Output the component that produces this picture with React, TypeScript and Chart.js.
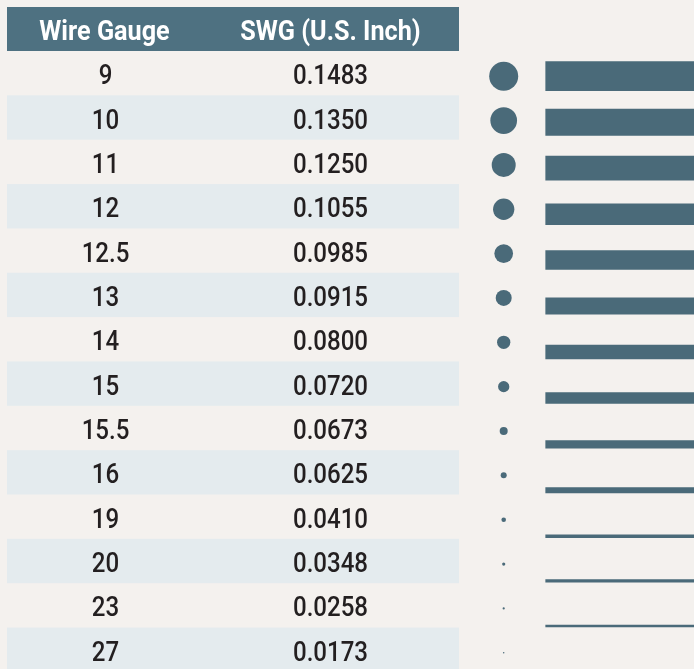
import { useEffect, useRef } from 'react';
import { Chart, registerables } from 'chart.js';

Chart.register(...registerables);

// ---------- data ----------
const HEADERS = ['Wire Gauge', 'SWG (U.S. Inch)'];
const GAUGES = ['9', '10', '11', '12', '12.5', '13', '14', '15', '15.5', '16', '19', '20', '23', '27'];
const SWG_INCH = [0.1483, 0.135, 0.125, 0.1055, 0.0985, 0.0915, 0.08, 0.072, 0.0673, 0.0625, 0.041, 0.0348, 0.0258, 0.0173];

// ---------- styles (sizes of the decorative wire marks, px) ----------
const DOT_DIAMETER_PX = [29, 26.7, 24, 21.3, 18.7, 16, 13.3, 11.3, 8, 6, 4.6, 3.2, 2.2, 1.5];
const BAR_THICKNESS_PX = [29, 26.3, 24, 21, 19, 16.3, 13.7, 11, 7.7, 5.3, 2.8, 2.6, 1.8, 1.4];

const W = 694;
const H = 669;
const HEADER_TOP = 7;
const BODY_TOP = 51;
const ROW_PX = 44.35;
const TABLE_LEFT = 7;
const TABLE_RIGHT = 459;
const COL1_X = 105.5;
const COL2_X = 330.5;
const DOT_X = 503.7;
const DOT_OFFSET_PX = 3;
const BAR_X0 = 545.7;
// the side-view wires sit on baselines spaced slightly wider than the table rows
const BAR_ROW_PX = 44.69;
const BAR_FIRST_BASE_PX = 90.7;

const BG = '#f4f1ee';
const ROW_ALT = '#e4ebee';
const HEADER_BG = '#4e7181';
const MARK = '#4a6a79';
const TEXT = '#231f20';
const FONT = 'Roboto, "Liberation Sans", sans-serif';

function drawText(ctx: CanvasRenderingContext2D, t: string, x: number, yb: number, font: string, color: string, sx: number) {
  ctx.save();
  ctx.translate(x, yb);
  ctx.scale(sx, 1);
  ctx.font = font;
  ctx.fillStyle = color;
  ctx.textAlign = 'center';
  ctx.textBaseline = 'alphabetic';
  ctx.fillText(t, 0, 0);
  ctx.restore();
}

const tablePlugin = {
  id: 'swgTable',
  beforeDraw(chart: any) {
    const ctx: CanvasRenderingContext2D = chart.ctx;
    const y = chart.scales.y;
    ctx.save();
    ctx.fillStyle = BG;
    ctx.fillRect(0, 0, chart.width, chart.height);

    GAUGES.forEach((g, i) => {
      const top = y.getPixelForValue(i - 0.5);
      const bot = y.getPixelForValue(i + 0.5);
      if (i % 2 === 1) {
        ctx.fillStyle = ROW_ALT;
        ctx.fillRect(TABLE_LEFT, top, TABLE_RIGHT - TABLE_LEFT, bot - top);
      }
      const c = (top + bot) / 2;
      drawText(ctx, g, COL1_X, c + 11, `500 28px ${FONT}`, TEXT, 0.86);
      drawText(ctx, SWG_INCH[i].toFixed(4), COL2_X, c + 11, `500 28px ${FONT}`, TEXT, 0.86);
    });

    const hb = y.getPixelForValue(-0.5);
    ctx.fillStyle = HEADER_BG;
    ctx.fillRect(TABLE_LEFT, HEADER_TOP, TABLE_RIGHT - TABLE_LEFT, hb - HEADER_TOP);
    const hc = (HEADER_TOP + hb) / 2;
    drawText(ctx, HEADERS[0], COL1_X - 1, hc + 11, `bold 28px ${FONT}`, '#ffffff', 0.9);
    drawText(ctx, HEADERS[1], COL2_X, hc + 11, `bold 28px ${FONT}`, '#ffffff', 0.9);
    ctx.restore();
  },
};

export default function App() {
  const ref = useRef<HTMLCanvasElement | null>(null);

  useEffect(() => {
    if (!ref.current) return;
    const yMax = -0.5 + (H - BODY_TOP) / ROW_PX;
    const barMin = (BODY_TOP - BAR_FIRST_BASE_PX) / BAR_ROW_PX;
    const barMax = (H - BAR_FIRST_BASE_PX) / BAR_ROW_PX;

    const barDatasets: any[] = GAUGES.map((g, i) => ({
      type: 'bar',
      label: `Gauge ${g}`,
      indexAxis: 'y',
      yAxisID: 'yWire',
      grouped: false,
      barThickness: BAR_THICKNESS_PX[i],
      backgroundColor: MARK,
      borderWidth: 0,
      data: [{ x: [BAR_X0, W], y: i - BAR_THICKNESS_PX[i] / 2 / BAR_ROW_PX }],
    }));

    const dotDataset: any = {
      type: 'bubble',
      label: 'Cross-section',
      backgroundColor: MARK,
      borderWidth: 0,
      hoverRadius: 0,
      data: GAUGES.map((g, i) => ({ x: DOT_X, y: i + DOT_OFFSET_PX / ROW_PX, r: DOT_DIAMETER_PX[i] / 2 })),
    };

    const chart = new Chart(ref.current, {
      type: 'bubble',
      data: { datasets: [dotDataset, ...barDatasets] },
      options: {
        responsive: false,
        animation: false,
        events: [],
        layout: { autoPadding: false, padding: { top: BODY_TOP, left: 0, right: 0, bottom: 0 } },
        plugins: { legend: { display: false }, tooltip: { enabled: false } },
        scales: {
          x: { type: 'linear', min: 0, max: W, offset: false, display: false },
          y: { type: 'linear', min: -0.5, max: yMax, reverse: true, offset: false, display: false },
          yWire: { type: 'linear', axis: 'y', min: barMin, max: barMax, reverse: true, offset: false, display: false },
        },
      } as any,
      plugins: [tablePlugin],
    });
    return () => chart.destroy();
  }, []);

  return (
    <div style={{ position: 'absolute', left: 0, top: 0, width: W, height: H, background: BG }}>
      <canvas ref={ref} width={W} height={H} style={{ display: 'block' }} />
    </div>
  );
}
